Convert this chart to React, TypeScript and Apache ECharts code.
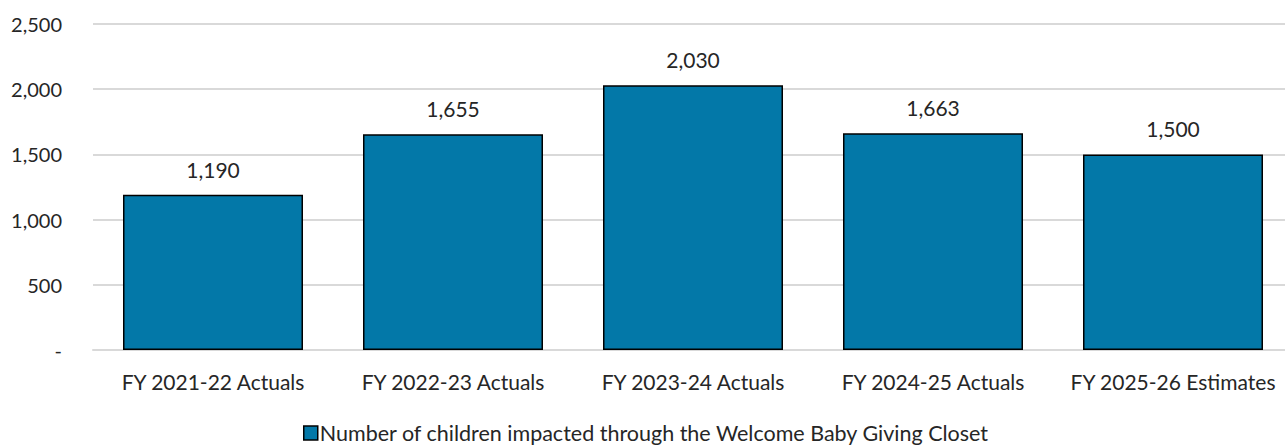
import React, { useEffect, useRef } from "react";
import * as echarts from "echarts";

const categories = [
  "FY 2021-22 Actuals",
  "FY 2022-23 Actuals",
  "FY 2023-24 Actuals",
  "FY 2024-25 Actuals",
  "FY 2025-26 Estimates",
];
const children = [1190, 1655, 2030, 1663, 1500];
const seriesName = "Number of children impacted through the Welcome Baby Giving Closet";

const FONT = "Lato, 'Noto Sans', sans-serif";
const TEXT = "#262626";
const fmt = (v: number) => (v === 0 ? "-" : v.toLocaleString("en-US"));

export default function App() {
  const ref = useRef<HTMLDivElement>(null);
  useEffect(() => {
    if (!ref.current) return;
    const chart = echarts.init(ref.current, undefined, { renderer: "svg" });
    chart.setOption({
      animation: false,
      textStyle: { fontFamily: FONT },
      grid: { left: 93, right: 0, top: 24, bottom: 96, containLabel: false },
      legend: {
        top: 422,
        left: 303,
        padding: 0,
        icon: "rect",
        itemWidth: 14,
        itemHeight: 14,
        itemGap: 4,
        textStyle: {
          fontFamily: FONT,
          fontSize: 21.5,
          lineHeight: 22,
          color: TEXT,
          padding: [0, 0, 0, -3],
        },
        data: [{ name: seriesName, itemStyle: { borderColor: "#000", borderWidth: 1.5 } }],
      },
      xAxis: {
        type: "category",
        data: categories,
        axisLine: { lineStyle: { color: "#d9d9d9", width: 2 } },
        axisTick: { show: false },
        axisLabel: { interval: 0, fontSize: 21, color: TEXT, margin: 21, fontFamily: FONT },
      },
      yAxis: {
        type: "value",
        min: 0,
        max: 2500,
        interval: 500,
        axisLine: { show: false },
        axisTick: { show: false },
        splitLine: { lineStyle: { color: "#d9d9d9", width: 2 } },
        axisLabel: {
          fontSize: 20,
          color: TEXT,
          margin: 31,
          fontFamily: FONT,
          formatter: (v: number) => fmt(v),
        },
      },
      series: [
        {
          name: seriesName,
          type: "bar",
          data: children,
          barWidth: "75%",
          itemStyle: { color: "#0378A8", borderColor: "#000", borderWidth: 1.5 },
          label: {
            show: true,
            position: "top",
            distance: 15,
            fontSize: 21,
            color: TEXT,
            fontFamily: FONT,
            formatter: (p: any) => fmt(p.value),
          },
        },
      ],
    });
    return () => chart.dispose();
  }, []);
  return (
    <div style={{ position: "fixed", left: 0, top: 0, width: 1285, height: 446, overflow: "hidden", background: "#fff" }}>
      <div ref={ref} style={{ width: 1293, height: 446 }} />
    </div>
  );
}
